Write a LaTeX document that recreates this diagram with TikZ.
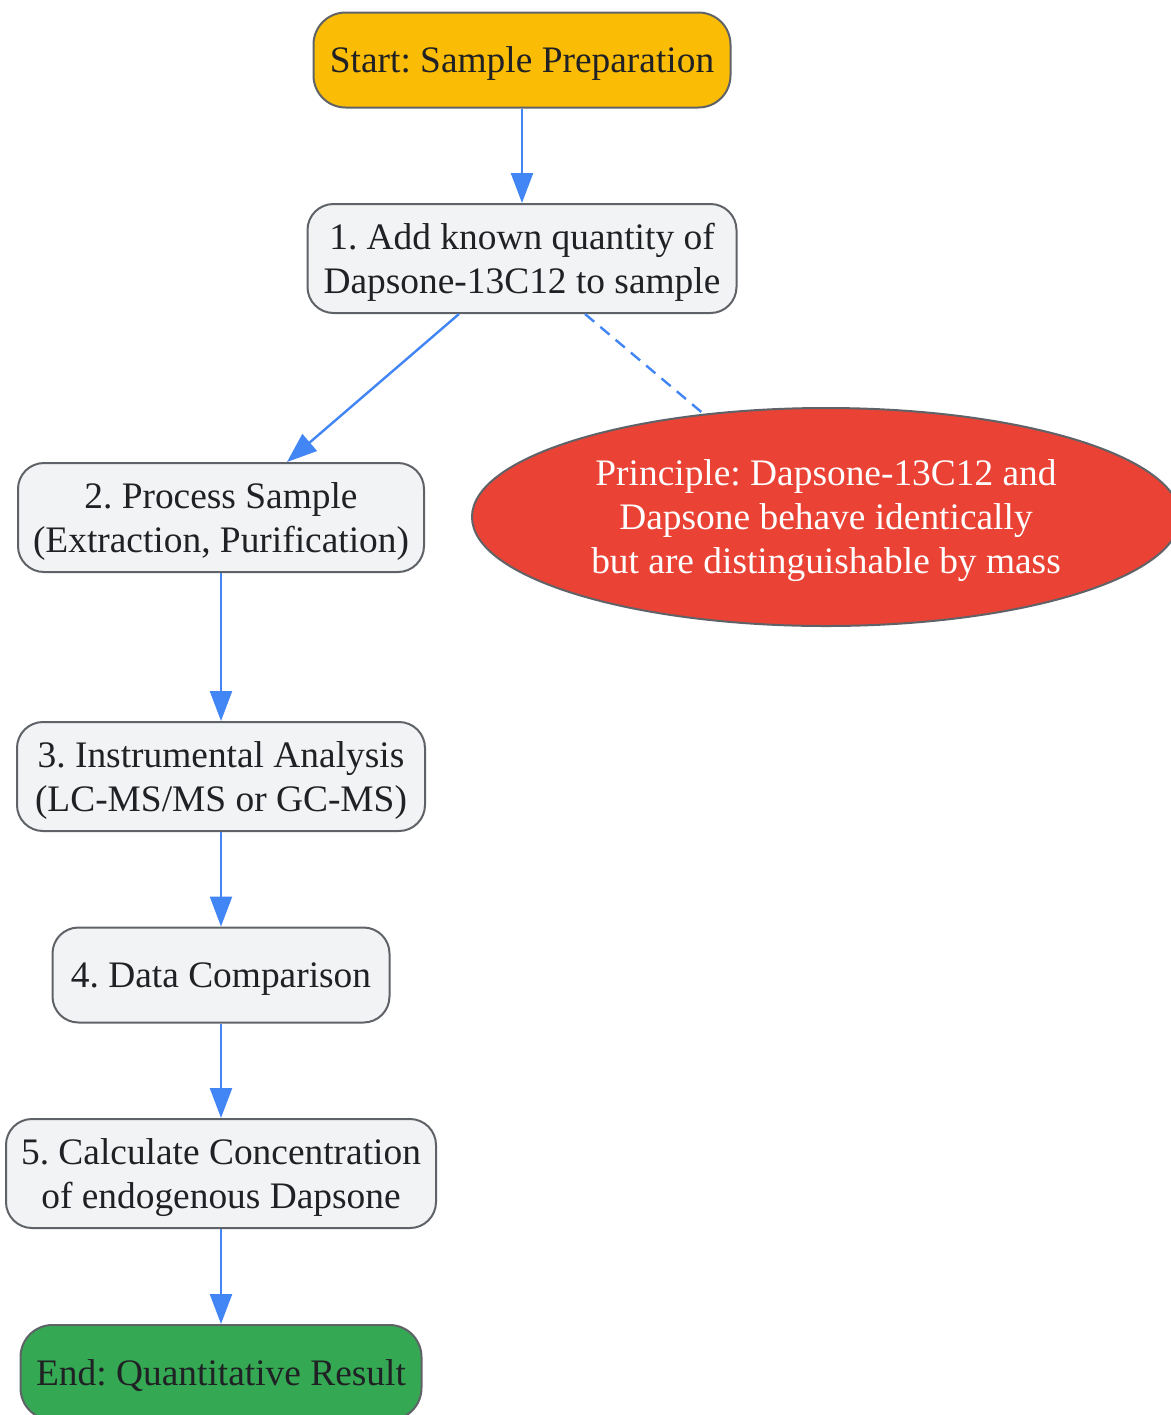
\documentclass[tikz,border=0pt]{standalone}
\usepackage{fontspec}
\setmainfont{Liberation Serif}
\usetikzlibrary{arrows.meta, shapes.geometric}
\frenchspacing

\definecolor{startyellow}{HTML}{FBBC05}
\definecolor{endgreen}{HTML}{34A853}
\definecolor{principlered}{HTML}{EA4335}
\definecolor{stepgray}{HTML}{F1F3F4}
\definecolor{bordergray}{HTML}{5F6368}
\definecolor{flowblue}{HTML}{4285F4}
\definecolor{textdark}{HTML}{202124}

\tikzset{
    stepbox/.style={draw=bordergray, line width=1pt, fill=stepgray, rounded corners=13pt,
        align=center, text=textdark, inner xsep=0pt, inner ysep=0pt, text depth=0pt,
        font=\fontsize{18.7}{22}\selectfont},
    flow/.style={draw=flowblue, line width=1.2pt, -{Triangle[length=15pt, width=11pt]}},
}

\begin{document}
\begin{tikzpicture}[x=0.5pt, y=-0.5pt]
    \useasboundingbox (0,0) rectangle (1171,1415);

    % Ablauf
    \node[stepbox, fill=startyellow, minimum width=208.5pt, minimum height=47.5pt, rounded corners=16pt]
        (start) at (522,60) {Start: Sample Preparation};
    \node[stepbox, minimum width=214.5pt, minimum height=54.5pt]
        (add) at (522,258.5) {1. Add known quantity of\\Dapsone-13C12 to sample};
    \node[stepbox, minimum width=203pt, minimum height=54.5pt]
        (process) at (221,517.5) {2. Process Sample\\(Extraction, Purification)};
    \node[stepbox, minimum width=204pt, minimum height=54.5pt]
        (analysis) at (221,776.5) {3. Instrumental Analysis\\(LC-MS/MS or GC-MS)};
    \node[stepbox, minimum width=168.5pt, minimum height=47.5pt]
        (compare) at (221,975) {4. Data Comparison};
    \node[stepbox, minimum width=215pt, minimum height=54.5pt]
        (calc) at (221,1173.5) {5. Calculate Concentration\\of endogenous Dapsone};
    \node[stepbox, fill=endgreen, minimum width=200.5pt, minimum height=47.5pt, rounded corners=16pt]
        (end) at (221,1372.5) {End: Quantitative Result};

    % Prinzip
    \node[ellipse, draw=bordergray, line width=1pt, fill=principlered, text=white, align=center,
        minimum width=354pt, minimum height=109pt, inner sep=0pt, text depth=0pt,
        font=\fontsize{18.7}{22}\selectfont]
        (principle) at (826,517) {Principle: Dapsone-13C12 and\\Dapsone behave identically\\but are distinguishable by mass};

    % Pfeile
    \draw[flow] (start) -- (add);
    \draw[flow] (add.south -| 459,0) -- (process.north -| 287,0);
    \draw[flow] (process) -- (analysis);
    \draw[flow] (analysis) -- (compare);
    \draw[flow] (compare) -- (calc);
    \draw[flow] (calc) -- (end);
    \draw[draw=flowblue, line width=1.2pt, dash pattern=on 6pt off 4pt] (add.south -| 585,0) -- (principle);
\end{tikzpicture}
\end{document}
